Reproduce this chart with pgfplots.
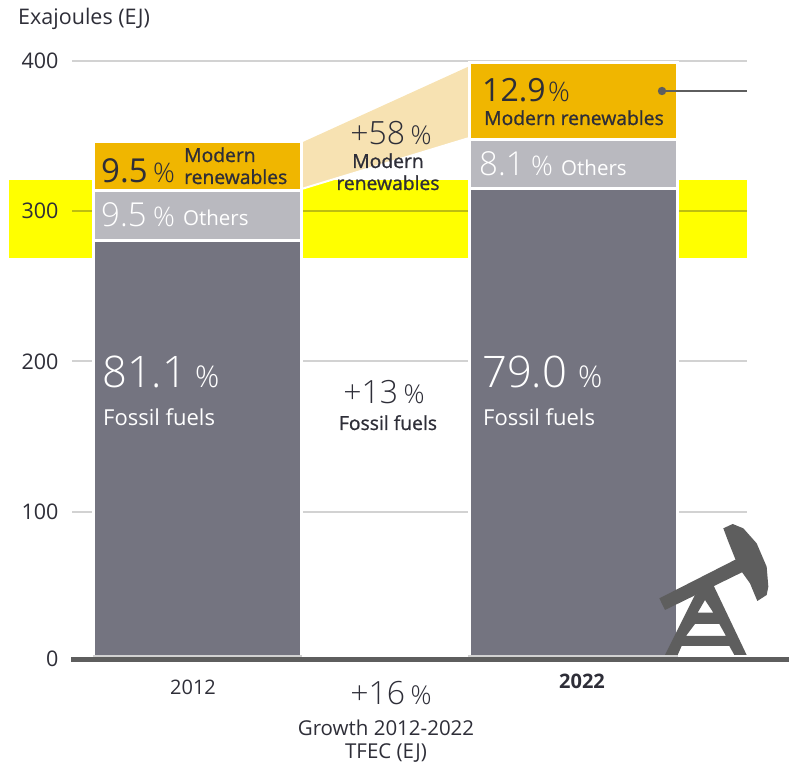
\documentclass[border=0pt]{standalone}
\usepackage{pgfplots}
\pgfplotsset{compat=1.18}
\usepackage{fontspec}
\setmainfont{Open Sans}
\newfontfamily\lightf{Open Sans Light}
\newfontfamily\medf[FakeBold=1]{Open Sans}
\definecolor{inkdark}{HTML}{2E2E38}
\definecolor{fossil}{HTML}{747480}
\definecolor{others}{HTML}{B9B9BF}
\definecolor{renew}{HTML}{F0B600}
\definecolor{wedge}{HTML}{F7E2B2}
\definecolor{gridgrey}{HTML}{D2D2D2}
\definecolor{iconGrey}{HTML}{5E5E5E}
\definecolor{band}{HTML}{FFFF00}
\definecolor{bandline}{HTML}{BDBD10}
\newcommand{\fs}[1]{\fontsize{#1}{#1}\selectfont}
\pgfplotsset{
  frame/.style={
    scale only axis, width=675pt, height=601.2pt,
    at={(72pt,103pt)}, anchor=south west,
    xmin=72, xmax=747, ymin=0, ymax=400,
    clip=false,
  },
}
\begin{document}
\begin{tikzpicture}
\path (0,0) rectangle (789pt,765pt);
% highlighted band behind everything
\begin{axis}[frame, hide axis]
  \addplot[fill=band, draw=none] coordinates {(9,269) (747,269) (747,321) (9,321)} --cycle;
\end{axis}
% grid and growth wedge
\begin{axis}[frame,
    axis line style={draw=none},
    tick style={draw=none},
    xtick=\empty,
    ytick={100,200,300,400},
    extra y ticks={0},
    extra tick style={grid=none, yticklabel style={yshift=3pt}},
    ymajorgrids, grid style={gridgrey, line width=1.8pt},
    /pgf/number format/assume math mode=true,
    yticklabel style={font=\fs{21.5}, text=inkdark, xshift=-10pt},
  ]
  \addplot[color=bandline, line width=1.2pt] coordinates {(72,300) (747,300)};
  \addplot[fill=wedge, draw=none] coordinates {(303,346) (468,396) (468,348.4) (303,315)} --cycle;
  \addplot[white, line width=2pt] coordinates {(303,315) (468,348.4)};
\end{axis}
% stacked shares of final energy consumption
\begin{axis}[frame, hide axis, ybar stacked, bar width=208pt, bar shift=0pt]
  \addplot[fill=fossil, draw=white, line width=3pt] coordinates {(197.5,280.6) (573.3,315.2)};
  \addplot[fill=others, draw=white, line width=3pt] coordinates {(197.5,32.9) (573.3,32.3)};
  \addplot[fill=renew, draw=white, line width=3pt] coordinates {(197.5,32.9) (573.3,51.5)};
\end{axis}
% annotations, in a top-down coordinate frame
\begin{scope}[shift={(0pt,765pt)}, x=1pt, y=-1pt]
  \fill[gridgrey] (93,655) rectangle (302,657.5);
  \fill[gridgrey] (468,655) rectangle (678,657.5);
  \fill[iconGrey] (71,657.5) rectangle (789,662);
  \draw[iconGrey, line width=2pt] (662,91) -- (747,91);
  \fill[iconGrey] (662,91) circle (4.2);
  % pump jack
  \begin{scope}[shift={(600,500)}, x=0.3333pt, y=-0.3333pt]
    \fill[iconGrey] (370,85) -- (398,72) -- (430,85) -- (470,130) -- (500,200) -- (505,260) -- (500,285) -- (472,303) -- (450,250) -- (425,215) -- (405,175) -- (385,125) -- cycle;
    \fill[iconGrey] (178,295) -- (410,177) -- (430,215) -- (195,330) -- cycle;
    \fill[iconGrey, even odd rule] (195,465) -- (285,285) -- (340,255) -- (440,465) -- (403,465) -- (388,438) -- (245,438) -- (233,465) -- cycle
      (315,300) -- (293,338) -- (340,338) -- cycle
      (285,372) -- (358,372) -- (378,408) -- (258,408) -- cycle;
  \end{scope}
  \tikzset{t/.style={anchor=base west, inner sep=0pt, text=inkdark}, c/.style={anchor=base, inner sep=0pt, text=inkdark}, w/.style={anchor=base west, inner sep=0pt, text=white}}
  \node[t] at (18,25) {\fs{21.5}Exajoules (EJ)};
  % 2012 bar
  \node[t] at (101,183) {\fs{33}9.5};
  \node[t] at (153,183) {\fs{27}\lightf\%};
  \node[t] at (184,162) {\fs{19.3}\medf Modern};
  \node[t] at (184,184) {\fs{19.3}\medf renewables};
  \node[w] at (101,227) {\fs{33}\lightf 9.5};
  \node[w] at (153,227) {\fs{27}\lightf\%};
  \node[w] at (183,226) {\fs{20.5}Others};
  \node[w] at (102,388) {\fs{43.5}\lightf 81.1};
  \node[w] at (195,388) {\fs{30}\lightf\%};
  \node[w] at (103,426) {\fs{22}Fossil fuels};
  % 2022 bar
  \node[t] at (482,102) {\fs{32}12.9};
  \node[t] at (548,102) {\fs{27}\lightf\%};
  \node[t] at (484,125) {\fs{19.3}\medf Modern renewables};
  \node[w] at (479,176) {\fs{33}\lightf 8.1};
  \node[w] at (531,176) {\fs{27}\lightf\%};
  \node[w] at (561,176) {\fs{20.5}Others};
  \node[w] at (482,388) {\fs{43.5}\lightf 79.0};
  \node[w] at (578,388) {\fs{30}\lightf\%};
  \node[w] at (483,426) {\fs{22}Fossil fuels};
  % growth figures between the bars
  \node[c] at (391,145) {\fs{32}\lightf +58\,\fs{26}\%};
  \node[c] at (388,168) {\fs{19.3}\medf Modern};
  \node[c] at (388,190) {\fs{19.3}\medf renewables};
  \node[c] at (384,404) {\fs{32}\lightf +13\,\fs{26}\%};
  \node[c] at (388,430) {\fs{19.3}\medf Fossil fuels};
  \node[c] at (391,705) {\fs{32}\lightf +16\,\fs{26}\%};
  \node[c] at (386,736) {\fs{20.5}Growth 2012-2022};
  \node[c] at (386,759) {\fs{20.5}TFEC (EJ)};
  \node[c] at (193,695) {\fs{20}2012};
  \node[c] at (582,689) {\fs{20}\bfseries 2022};
\end{scope}
\end{tikzpicture}
\end{document}
